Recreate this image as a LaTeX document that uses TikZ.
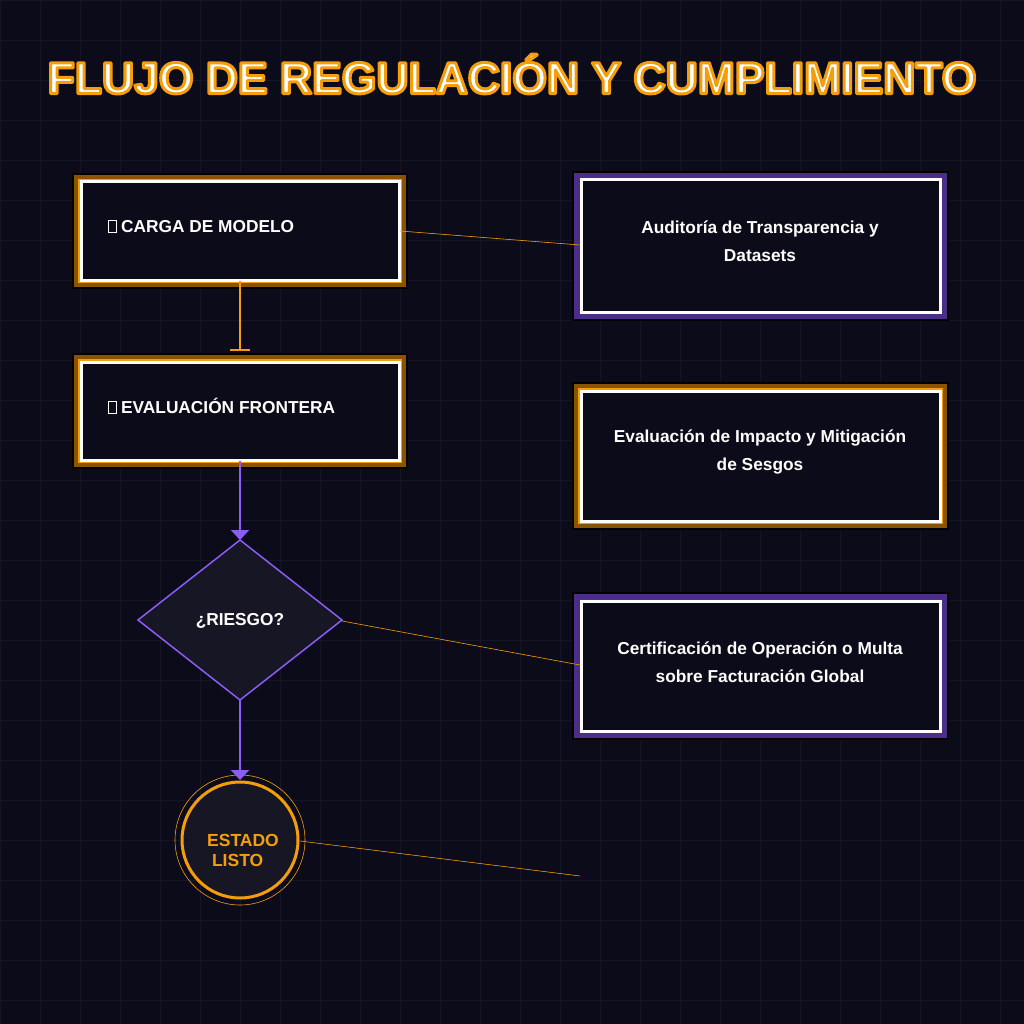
\documentclass[tikz,border=0pt]{standalone}
\usepackage{fontspec}
\setmainfont{Liberation Sans}
\usetikzlibrary{arrows.meta,calc}
\definecolor{bg}{HTML}{0B0B1A}
\definecolor{gridc}{HTML}{151525}
\definecolor{org}{HTML}{F59E0B}
\definecolor{brn}{HTML}{8A5300}
\definecolor{pur}{HTML}{8B5CF6}
\definecolor{dpur}{HTML}{4C2E8A}
\definecolor{fillc}{HTML}{161625}
\newcommand{\outlined}[1]{\special{pdf:literal direct 2 Tr 3 w 1 j 0.96 0.62 0.04 RG}#1\special{pdf:literal direct 0 Tr}}
\begin{document}
\begin{tikzpicture}[x=1pt,y=-1pt,
  txt/.style={text=white,font=\bfseries\fontsize{17.3}{28}\selectfont,align=center},
  obox/.style={draw=brn,line width=6pt,fill=bg},
  ibox/.style={draw=white,line width=3pt},
  conn/.style={org,line width=0.6pt}]
\useasboundingbox (0,0) rectangle (1024,1024);
\fill[bg] (0,0) rectangle (1024,1024);
\foreach \i in {0,40,...,1000}{\draw[gridc,line width=0.6pt] (\i,0)--(\i,1024); \draw[gridc,line width=0.6pt] (0,\i)--(1024,\i);}
% title
\node[text=white,font=\bfseries\fontsize{44.5}{50}\selectfont] (title) at (512,74) {\outlined{FLUJO DE REGULACIÓN Y CUMPLIMIENTO}};
% left boxes
\draw[black,line width=2pt] (73,174) rectangle (407,288);
\draw[obox] (77,178) rectangle (403,284);
\draw[org,line width=1.5pt] (79,180) rectangle (401,282);
\draw[ibox] (81,182) rectangle (399,280);
\node[txt,anchor=west] (b1) at (104,226) {\tikz[x=1pt,y=1pt]\draw[white,line width=0.8pt](0,0) rectangle (8,12);\ CARGA DE MODELO};
\coordinate (b1r) at (400,231); \coordinate (b1b) at (240,281);
\draw[black,line width=2pt] (73,354) rectangle (407,468);
\draw[obox] (77,358) rectangle (403,464);
\draw[org,line width=1.5pt] (79,360) rectangle (401,462);
\draw[ibox] (81,362) rectangle (399,460);
\node[txt,anchor=west] (b2) at (104,406) {\tikz[x=1pt,y=1pt]\draw[white,line width=0.8pt](0,0) rectangle (8,12);\ EVALUACIÓN FRONTERA};
\coordinate (b2t) at (240,351); \coordinate (b2b) at (240,461);
% right boxes
\draw[black,line width=2pt] (573,172) rectangle (948,320);
\draw[draw=dpur,line width=6pt,fill=bg] (577,176) rectangle (944,316);
\draw[ibox] (581,180) rectangle (940,312);
\node[txt] (r1) at (760,241) {Auditoría de Transparencia y\\Datasets};
\coordinate (r1l) at (580,245);
\draw[black,line width=2pt] (573,383) rectangle (948,529);
\draw[obox] (577,387) rectangle (944,525);
\draw[org,line width=1.5pt] (579,389) rectangle (942,523);
\draw[ibox] (581,391) rectangle (940,521);
\node[txt] (r2) at (760,452) {Evaluación de Impacto y Mitigación\\de Sesgos};
\draw[black,line width=2pt] (573,593) rectangle (948,739);
\draw[draw=dpur,line width=6pt,fill=bg] (577,597) rectangle (944,735);
\draw[ibox] (581,601) rectangle (940,731);
\node[txt] (r3) at (760,662) {Certificación de Operación o Multa\\sobre Facturación Global};
\coordinate (r3l) at (580,665); \coordinate (r4l) at (580,876);
% diamond
\draw[pur,line width=1.5pt,fill=fillc] (240,540)--(342,620)--(240,700)--(138,620)--cycle;
\node[txt] (d) at (240,621) {¿RIESGO?};
\coordinate (dt) at (240,540); \coordinate (dr) at (342,621); \coordinate (db) at (240,700);
% circle
\draw[org,line width=0.6pt] (240,840) circle (65);
\draw[org,line width=3pt,fill=fillc] (240,840) circle (58);
\node[text=org,font=\bfseries\fontsize{17.5}{20}\selectfont,align=left] (c) at (243,850) {ESTADO\\\ LISTO};
\coordinate (ct) at (240,780); \coordinate (cr) at (300,841);
% connectors
\draw[org,line width=2pt,-{Bar[width=20pt,line width=2pt]}] (b1b)--(b2t);
\draw[pur,line width=2pt,-{Triangle[width=18pt,length=10pt]}] (b2b)--(dt);
\draw[pur,line width=2pt,-{Triangle[width=18pt,length=10pt]}] (db)--(ct);
\draw[conn] (b1r)--(r1l);
\draw[conn] (dr)--(r3l);
\draw[conn] (cr)--(r4l);
\end{tikzpicture}
\end{document}
